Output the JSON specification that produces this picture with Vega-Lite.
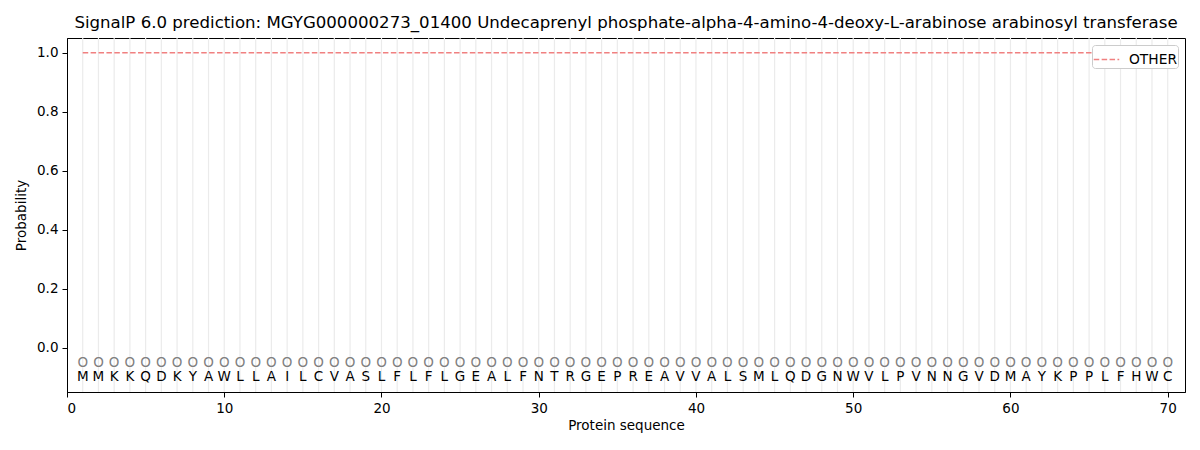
{
  "$schema": "https://vega.github.io/schema/vega-lite/v6.json",
  "autosize": {"type": "none"},
  "width": 1118,
  "height": 354,
  "padding": {"left": 67, "top": 38, "right": 15, "bottom": 58},
  "background": "white",
  "config": {
    "font": "DejaVu Sans",
    "view": {"stroke": "black", "strokeWidth": 1},
    "axis": {
      "labelFont": "DejaVu Sans",
      "titleFont": "DejaVu Sans",
      "labelFontSize": 13.5,
      "titleFontSize": 13.5,
      "titleFontWeight": "normal",
      "labelColor": "black",
      "titleColor": "black",
      "domainColor": "black",
      "tickColor": "black",
      "tickSize": 5,
      "labelPadding": 4,
      "grid": false
    }
  },
  "title": {
    "text": "SignalP 6.0 prediction: MGYG000000273_01400 Undecaprenyl phosphate-alpha-4-amino-4-deoxy-L-arabinose arabinosyl transferase",
    "fontSize": 16.6,
    "fontWeight": "normal",
    "font": "DejaVu Sans",
    "color": "black",
    "anchor": "middle",
    "offset": 6
  },
  "data": {
    "values": [
      {"pos": 1, "aa": "M", "prob": 1.0, "label": "OTHER"},
      {"pos": 2, "aa": "M", "prob": 1.0, "label": "OTHER"},
      {"pos": 3, "aa": "K", "prob": 1.0, "label": "OTHER"},
      {"pos": 4, "aa": "K", "prob": 1.0, "label": "OTHER"},
      {"pos": 5, "aa": "Q", "prob": 1.0, "label": "OTHER"},
      {"pos": 6, "aa": "D", "prob": 1.0, "label": "OTHER"},
      {"pos": 7, "aa": "K", "prob": 1.0, "label": "OTHER"},
      {"pos": 8, "aa": "Y", "prob": 1.0, "label": "OTHER"},
      {"pos": 9, "aa": "A", "prob": 1.0, "label": "OTHER"},
      {"pos": 10, "aa": "W", "prob": 1.0, "label": "OTHER"},
      {"pos": 11, "aa": "L", "prob": 1.0, "label": "OTHER"},
      {"pos": 12, "aa": "L", "prob": 1.0, "label": "OTHER"},
      {"pos": 13, "aa": "A", "prob": 1.0, "label": "OTHER"},
      {"pos": 14, "aa": "I", "prob": 1.0, "label": "OTHER"},
      {"pos": 15, "aa": "L", "prob": 1.0, "label": "OTHER"},
      {"pos": 16, "aa": "C", "prob": 1.0, "label": "OTHER"},
      {"pos": 17, "aa": "V", "prob": 1.0, "label": "OTHER"},
      {"pos": 18, "aa": "A", "prob": 1.0, "label": "OTHER"},
      {"pos": 19, "aa": "S", "prob": 1.0, "label": "OTHER"},
      {"pos": 20, "aa": "L", "prob": 1.0, "label": "OTHER"},
      {"pos": 21, "aa": "F", "prob": 1.0, "label": "OTHER"},
      {"pos": 22, "aa": "L", "prob": 1.0, "label": "OTHER"},
      {"pos": 23, "aa": "F", "prob": 1.0, "label": "OTHER"},
      {"pos": 24, "aa": "L", "prob": 1.0, "label": "OTHER"},
      {"pos": 25, "aa": "G", "prob": 1.0, "label": "OTHER"},
      {"pos": 26, "aa": "E", "prob": 1.0, "label": "OTHER"},
      {"pos": 27, "aa": "A", "prob": 1.0, "label": "OTHER"},
      {"pos": 28, "aa": "L", "prob": 1.0, "label": "OTHER"},
      {"pos": 29, "aa": "F", "prob": 1.0, "label": "OTHER"},
      {"pos": 30, "aa": "N", "prob": 1.0, "label": "OTHER"},
      {"pos": 31, "aa": "T", "prob": 1.0, "label": "OTHER"},
      {"pos": 32, "aa": "R", "prob": 1.0, "label": "OTHER"},
      {"pos": 33, "aa": "G", "prob": 1.0, "label": "OTHER"},
      {"pos": 34, "aa": "E", "prob": 1.0, "label": "OTHER"},
      {"pos": 35, "aa": "P", "prob": 1.0, "label": "OTHER"},
      {"pos": 36, "aa": "R", "prob": 1.0, "label": "OTHER"},
      {"pos": 37, "aa": "E", "prob": 1.0, "label": "OTHER"},
      {"pos": 38, "aa": "A", "prob": 1.0, "label": "OTHER"},
      {"pos": 39, "aa": "V", "prob": 1.0, "label": "OTHER"},
      {"pos": 40, "aa": "V", "prob": 1.0, "label": "OTHER"},
      {"pos": 41, "aa": "A", "prob": 1.0, "label": "OTHER"},
      {"pos": 42, "aa": "L", "prob": 1.0, "label": "OTHER"},
      {"pos": 43, "aa": "S", "prob": 1.0, "label": "OTHER"},
      {"pos": 44, "aa": "M", "prob": 1.0, "label": "OTHER"},
      {"pos": 45, "aa": "L", "prob": 1.0, "label": "OTHER"},
      {"pos": 46, "aa": "Q", "prob": 1.0, "label": "OTHER"},
      {"pos": 47, "aa": "D", "prob": 1.0, "label": "OTHER"},
      {"pos": 48, "aa": "G", "prob": 1.0, "label": "OTHER"},
      {"pos": 49, "aa": "N", "prob": 1.0, "label": "OTHER"},
      {"pos": 50, "aa": "W", "prob": 1.0, "label": "OTHER"},
      {"pos": 51, "aa": "V", "prob": 1.0, "label": "OTHER"},
      {"pos": 52, "aa": "L", "prob": 1.0, "label": "OTHER"},
      {"pos": 53, "aa": "P", "prob": 1.0, "label": "OTHER"},
      {"pos": 54, "aa": "V", "prob": 1.0, "label": "OTHER"},
      {"pos": 55, "aa": "N", "prob": 1.0, "label": "OTHER"},
      {"pos": 56, "aa": "N", "prob": 1.0, "label": "OTHER"},
      {"pos": 57, "aa": "G", "prob": 1.0, "label": "OTHER"},
      {"pos": 58, "aa": "V", "prob": 1.0, "label": "OTHER"},
      {"pos": 59, "aa": "D", "prob": 1.0, "label": "OTHER"},
      {"pos": 60, "aa": "M", "prob": 1.0, "label": "OTHER"},
      {"pos": 61, "aa": "A", "prob": 1.0, "label": "OTHER"},
      {"pos": 62, "aa": "Y", "prob": 1.0, "label": "OTHER"},
      {"pos": 63, "aa": "K", "prob": 1.0, "label": "OTHER"},
      {"pos": 64, "aa": "P", "prob": 1.0, "label": "OTHER"},
      {"pos": 65, "aa": "P", "prob": 1.0, "label": "OTHER"},
      {"pos": 66, "aa": "L", "prob": 1.0, "label": "OTHER"},
      {"pos": 67, "aa": "F", "prob": 1.0, "label": "OTHER"},
      {"pos": 68, "aa": "H", "prob": 1.0, "label": "OTHER"},
      {"pos": 69, "aa": "W", "prob": 1.0, "label": "OTHER"},
      {"pos": 70, "aa": "C", "prob": 1.0, "label": "OTHER"}
    ]
  },
  "encoding": {
    "x": {
      "field": "pos",
      "type": "quantitative",
      "scale": {"domain": [0, 71.1], "nice": false, "zero": false},
      "axis": {"title": "Protein sequence", "values": [0, 10, 20, 30, 40, 50, 60, 70], "titlePadding": 4}
    }
  },
  "layer": [
    {
      "mark": {"type": "rule", "color": "#ebebeb", "strokeWidth": 1.2},
      "encoding": {}
    },
    {
      "mark": {"type": "line", "strokeDash": [5.5, 2.4], "strokeWidth": 1.5},
      "encoding": {
        "y": {
          "field": "prob",
          "type": "quantitative",
          "scale": {"domain": [-0.15, 1.05], "nice": false, "zero": false},
          "axis": {"title": "Probability", "values": [0, 0.2, 0.4, 0.6, 0.8, 1.0], "format": ".1f", "titlePadding": 8}
        },
        "color": {
          "field": "label",
          "type": "nominal",
          "scale": {"range": ["#f08080"]},
          "legend": {
            "title": null,
            "orient": "top-right",
            "offset": 7,
            "symbolType": "stroke",
            "symbolDash": [5.5, 2.4],
            "symbolStrokeWidth": 1.5,
            "symbolSize": 650,
            "labelFontSize": 13.8,
            "labelFont": "DejaVu Sans",
            "labelColor": "black",
            "labelOffset": 9,
            "strokeColor": "#cccccc",
            "fillColor": "white",
            "cornerRadius": 3,
            "padding": 1
          }
        }
      }
    },
    {
      "mark": {"type": "text", "text": "O", "color": "#808080", "fontSize": 13.5, "font": "DejaVu Sans"},
      "encoding": {
        "y": {"datum": -0.05, "type": "quantitative"}
      }
    },
    {
      "mark": {"type": "text", "color": "black", "fontSize": 13.5, "font": "DejaVu Sans"},
      "encoding": {
        "y": {"datum": -0.1, "type": "quantitative"},
        "text": {"field": "aa"}
      }
    }
  ]
}
